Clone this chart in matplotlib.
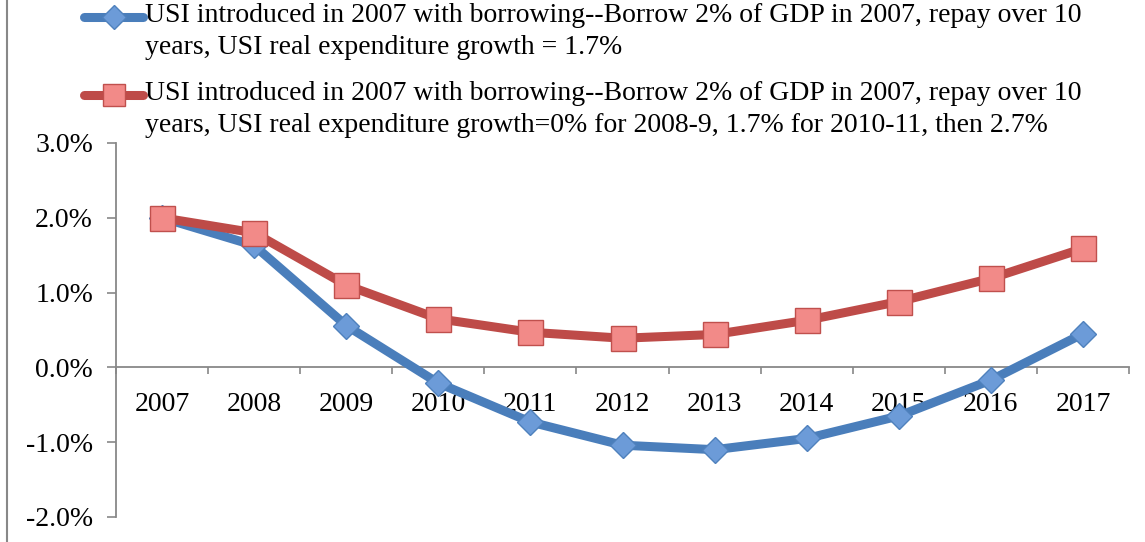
import matplotlib
matplotlib.use('Agg')
import matplotlib.pyplot as plt
from matplotlib.lines import Line2D
import numpy as np

# chart data
years = ['2007', '2008', '2009', '2010', '2011', '2012', '2013', '2014', '2015', '2016', '2017']
usi_growth_17 = [2.0, 1.63, 0.56, -0.21, -0.73, -1.04, -1.10, -0.95, -0.65, -0.17, 0.45]
usi_growth_delay = [2.0, 1.80, 1.10, 0.65, 0.47, 0.39, 0.44, 0.63, 0.88, 1.19, 1.59]
label_1 = ('USI introduced in 2007 with borrowing--Borrow 2% of GDP in 2007, repay over 10\n'
           'years, USI real expenditure growth = 1.7%')
label_2 = ('USI introduced in 2007 with borrowing--Borrow 2% of GDP in 2007, repay over 10\n'
           'years, USI real expenditure growth=0% for 2008-9, 1.7% for 2010-11, then 2.7%')

plt.rcParams['font.family'] = ['Liberation Serif', 'DejaVu Serif']
plt.rcParams['font.size'] = 20

W, H = 1145, 542
fig = plt.figure(figsize=(W / 100, H / 100), dpi=100)
ax = fig.add_axes([116 / W, 1 - 517 / H, (1129 - 116) / W, (517 - 143) / H])

blue, blue_face, blue_edge = '#4A7EBB', '#6C9BD8', '#4F81BD'
red, red_face, red_edge = '#BE4B48', '#F28A88', '#C0504D'

x = np.arange(len(years))
ax.plot(x, usi_growth_17, color=blue, lw=6.5, marker='D', ms=13,
        mfc=blue_face, mec=blue_edge, mew=1, zorder=4, clip_on=False)
ax.plot(x, usi_growth_delay, color=red, lw=6.5, marker='s', ms=18,
        mfc=red_face, mec=red_edge, mew=1, zorder=5, clip_on=False)

ax.set_xlim(-0.5, len(years) - 0.5)
ax.set_ylim(-2, 3)
ax.set_yticks([-2, -1, 0, 1, 2, 3])
ax.set_yticklabels(['-2.0%', '-1.0%', '0.0%', '1.0%', '2.0%', '3.0%'])

ax.set_xticks(x)
ax.set_xticklabels(years)
ax.set_xticks(np.arange(-0.5, len(years)), minor=True)
ax.tick_params(axis='x', which='major', length=0, pad=18)
ax.tick_params(axis='x', which='minor', length=5, width=1.2, color='#888888', direction='out')
ax.tick_params(axis='y', length=6.5, width=1.2, color='#888888', pad=10)

for s in ['top', 'right']:
    ax.spines[s].set_visible(False)
ax.spines['bottom'].set_position(('data', 0))
ax.spines['bottom'].set_color('#888888')
ax.spines['left'].set_color('#888888')
ax.spines['bottom'].set_linewidth(1.3)
ax.spines['left'].set_linewidth(1.3)

# legend drawn by hand so the handle sits on the first text line
for ypx, col, face, edge, mk, ms, lab in [(17, blue, blue_face, blue_edge, 'D', 12, label_1),
                                          (95, red, red_face, red_edge, 's', 16, label_2)]:
    yf = 1 - ypx / H
    fig.add_artist(Line2D([84 / W, 143 / W], [yf, yf], color=col, lw=6.5,
                          solid_capstyle='round', transform=fig.transFigure))
    fig.add_artist(Line2D([114 / W], [yf], marker=mk, ms=ms, mfc=face, mec=edge,
                          transform=fig.transFigure))
    fig.text(145 / W, 1 - (ypx - 14) / H, lab, va='top', ha='left', linespacing=1.35)

# outer chart border on the left
fig.add_artist(Line2D([7 / W, 7 / W], [0, 1], color='#888888', lw=1.5, transform=fig.transFigure))

fig.savefig('out.png', dpi=100)
